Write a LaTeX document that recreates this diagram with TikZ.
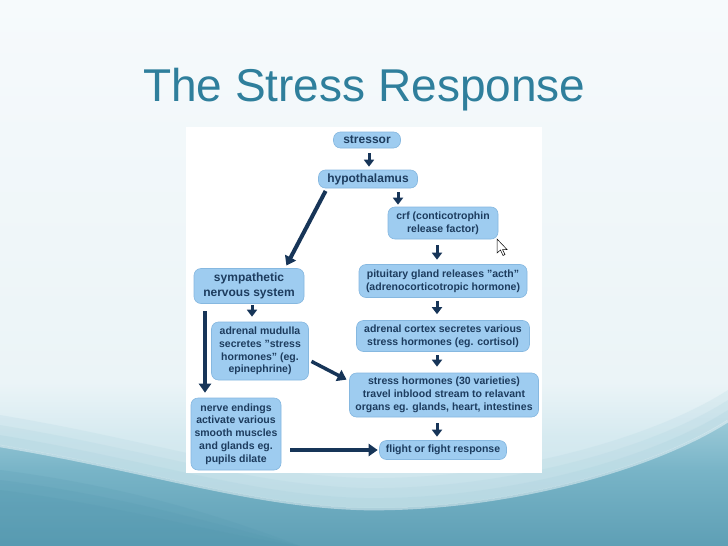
\documentclass[tikz,border=0pt]{standalone}
\usepackage{fontspec}
\setmainfont{Liberation Sans}
\usetikzlibrary{arrows.meta,calc}
\definecolor{bgtop}{HTML}{F6FAFC}
\definecolor{bgmid}{HTML}{EBF4F7}
\definecolor{bglow}{HTML}{D6EAF0}
\definecolor{bgbot}{HTML}{C2DFE8}
\definecolor{haze}{HTML}{A9D1DD}
\definecolor{tealtop}{HTML}{9CCAD8}
\definecolor{tealmid}{HTML}{78B4C7}
\definecolor{tealbot}{HTML}{5E9FB5}
\definecolor{tealB}{HTML}{4F95AD}
\definecolor{titlecol}{HTML}{2F7F9C}
\definecolor{boxfill}{HTML}{9ECCF0}
\definecolor{boxedge}{HTML}{86B8E0}
\definecolor{boxtext}{HTML}{1D3C5E}
\definecolor{arrcol}{HTML}{173558}
\pgfdeclareverticalshading{bgshade}{100bp}{color(0bp)=(bgbot); color(25bp)=(bgbot); color(35bp)=(bglow); color(40bp)=(bgmid); color(75bp)=(bgtop); color(100bp)=(bgtop)}
\pgfdeclareverticalshading{tealshade}{100bp}{color(0bp)=(tealbot); color(25bp)=(tealbot); color(55bp)=(tealmid); color(75bp)=(tealtop); color(100bp)=(tealtop)}
\tikzset{
  box/.style={rounded corners=7pt, fill=boxfill, draw=boxedge, line width=0.6pt,
    inner sep=0pt, align=center, text=boxtext,
    font=\bfseries\fontsize{10.5}{12.8}\selectfont},
  bigbox/.style={box, font=\bfseries\fontsize{12}{14.3}\selectfont},
  sarr/.style={draw=arrcol, line width=3pt, -{Triangle[width=10pt,length=7pt]}},
  larr/.style={draw=arrcol, line width=4pt, -{Triangle[width=12pt,length=9pt]}},
}
\begin{document}
\begin{tikzpicture}[x=1pt,y=-1pt]
\useasboundingbox (0,0) rectangle (728,546);
% background
\shade[shading=bgshade] (0,0) rectangle (728,546);
\foreach \o/\op in {30/0.18,20/0.2,10/0.25}{
  \fill[haze,opacity=\op] (0,445-\o) .. controls (150,470-\o) and (250,505-\o) .. (364,508-\o) .. controls (500,510-\o) and (650,470-\o) .. (728,420-\o) -- (728,546) -- (0,546) -- cycle;
}
\shade[shading=tealshade] (0,445) .. controls (150,470) and (250,505) .. (364,508) .. controls (500,510) and (650,470) .. (728,420) -- (728,546) -- (0,546) -- cycle;
\draw[white, opacity=0.45, line width=2.5pt] (0,446) .. controls (150,471) and (250,506) .. (364,509) .. controls (500,511) and (650,471) .. (728,421);
\foreach \o in {0,10,20}{
  \fill[tealB,opacity=0.15] (0,470+\o) .. controls (120,485+\o) and (220,515+\o) .. (300,546) -- (0,546) -- cycle;
}
% title
\node[anchor=base west, inner sep=0pt, text=titlecol, font=\fontsize{46}{50}\selectfont] (title) at (143,101) {The Stress Response};
% white panel
\fill[white] (186,127) rectangle (542,473);
% nodes
\node[bigbox, minimum width=67pt, minimum height=16pt] (stressor) at (367,140) {stressor};
\node[bigbox, minimum width=99pt, minimum height=18pt] (hyp) at (368,179) {hypothalamus};
\node[box, minimum width=110pt, minimum height=32pt] (crf) at (443,223) {crf (conticotrophin\\release factor)};
\node[box, minimum width=168pt, minimum height=33pt] (pit) at (443,281) {pituitary gland releases "acth"\\(adrenocorticotropic hormone)};
\node[bigbox, minimum width=110pt, minimum height=35pt] (symp) at (249,286) {sympathetic\\nervous system};
\node[box, minimum width=173pt, minimum height=31pt] (cortex) at (443,336) {adrenal cortex secretes various\\stress hormones (eg. cortisol)};
\node[box, minimum width=97pt, minimum height=58pt] (mud) at (260,351) {adrenal mudulla\\secretes "stress\\hormones" (eg.\\epinephrine)};
\node[box, minimum width=189pt, minimum height=44pt] (shorm) at (444,395) {stress hormones (30 varieties)\\travel inblood stream to relavant\\organs eg. glands, heart, intestines};
\node[box, minimum width=90pt, minimum height=72pt] (nerve) at (236,434) {nerve endings\\activate various\\smooth muscles\\and glands eg.\\pupils dilate};
\node[box, minimum width=127pt, minimum height=19pt] (flight) at (443,450) {flight or fight response};
% connectors
\draw[sarr, shorten <=5pt, shorten >=3pt] ([xshift=2pt]stressor.south) -- ([xshift=2pt]stressor.south |- hyp.north);
\draw[sarr, shorten <=4pt, shorten >=2pt] ([xshift=30pt]hyp.south) -- ([xshift=30pt]hyp.south |- crf.north);
\draw[larr, shorten <=3pt, shorten >=3pt] ([xshift=-41pt]hyp.south) -- ([xshift=36pt]symp.north);
\draw[sarr, shorten <=6pt, shorten >=4.5pt] ([xshift=-6pt]crf.south) -- ([xshift=-6pt]crf.south |- pit.north);
\draw[sarr, shorten <=3pt, shorten >=6pt] ([xshift=-6pt]pit.south) -- ([xshift=-6pt]pit.south |- cortex.north);
\draw[sarr, shorten <=3.5pt, shorten >=6pt] ([xshift=-6pt]cortex.south) -- ([xshift=-6pt]cortex.south |- shorm.north);
\draw[sarr, shorten <=6pt, shorten >=3.5pt] ([xshift=-7pt]shorm.south) -- ([xshift=-7pt]shorm.south |- flight.north);
\draw[sarr, shorten <=1.5pt, shorten >=5pt] ([xshift=3pt]symp.south) -- ([xshift=3pt]symp.south |- mud.north);
\draw[larr, line width=3.5pt, shorten <=7.5pt, shorten >=5pt] ([xshift=-44pt]symp.south) -- ([xshift=-44pt]symp.south |- nerve.north);
\draw[larr, line width=3.5pt, shorten <=3pt, shorten >=3pt] ([yshift=-9pt]mud.east) -- ([yshift=14pt]shorm.west);
\draw[larr, line width=3.5pt, shorten <=9pt, shorten >=1.5pt] (nerve.east |- flight.west) -- (flight.west);
% mouse cursor
\filldraw[fill=white, draw=black, line width=0.5pt] (497,239) -- (497,253) -- (500.5,250) -- (503,255.5) -- (505,254.5) -- (502.5,249.5) -- (507,249.5) -- cycle;
\end{tikzpicture}
\end{document}
